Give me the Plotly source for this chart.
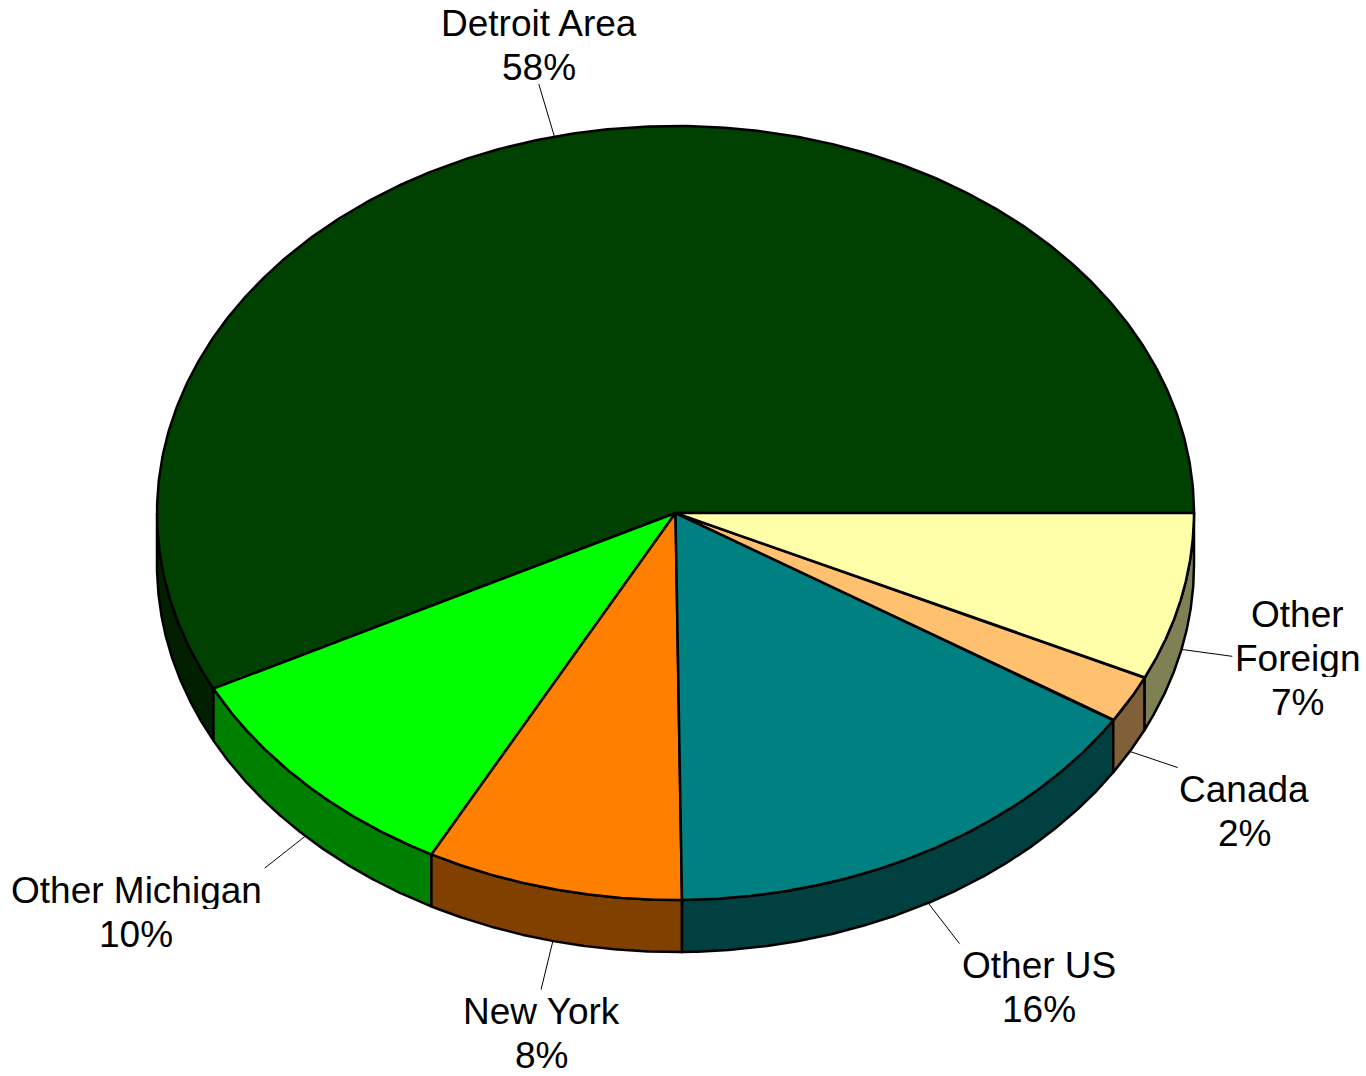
import numpy as np
import plotly.graph_objects as go

# ---- data ----
categories = ["Detroit Area", "Other Michigan", "New York", "Other US", "Canada", "Other Foreign"]
label_lines = [["Detroit Area"], ["Other Michigan"], ["New York"], ["Other US"], ["Canada"], ["Other", "Foreign"]]
values = [57.5, 9.7, 8.0, 15.8, 2.0, 7.0]
top_colors = ["#004000", "#00FF00", "#FF8000", "#008080", "#FFC070", "#FFFFAA"]
side_colors = ["#002000", "#008000", "#804000", "#004040", "#806038", "#808055"]

# ---- layout / style ----
W, H = 1366, 1076
CX, CY = 675.5, 513.0
RX, RY = 518.5, 387.0
DEPTH = 52.0
LEADER = 50.0
OUTLINE = 2.5
# small hand placement tweaks of the leader-line ends (px)
leader_nudge = [(-4, -4), (-5, -3), (0, 0), (7, -3), (4, -8), (2, -4)]
FS = 37
LS = 44.0
FONT = dict(family="Liberation Sans, Arial, sans-serif", size=FS, color="black")

# Arial / Liberation Sans advance widths (em) for label layout
CW = {"O": .778, "t": .278, "h": .556, "e": .556, "r": .333, " ": .278, "M": .833,
      "i": .222, "c": .5, "g": .556, "a": .556, "n": .556, "U": .722, "S": .667,
      "C": .722, "d": .556, "F": .611, "o": .556, "N": .722, "w": .722, "Y": .667,
      "k": .5, "D": .722, "A": .667, "%": .889, "l": .222}


def text_w(s):
    return sum(CW.get(ch, .556) for ch in s) * FS


def pt(t_deg, dy=0.0):
    t = np.radians(t_deg)
    return CX + RX * np.cos(t), CY - RY * np.sin(t) + dy


total = sum(values)
bounds = [0.0]
for v in values:
    bounds.append(bounds[-1] + 360.0 * v / total)

fig = go.Figure()

# sides (front half only: 180..360 deg)
for i, v in enumerate(values):
    a0, a1 = bounds[i], bounds[i + 1]
    s0, s1 = max(a0, 180.0), min(a1, 360.0)
    if s1 <= s0:
        continue
    ts = np.linspace(s0, s1, 200)
    xt, yt = pt(ts)
    xb, yb = pt(ts[::-1], DEPTH)
    xs = np.concatenate([xt, xb, xt[:1]])
    ys = np.concatenate([yt, yb, yt[:1]])
    fig.add_trace(go.Scatter(x=xs, y=ys, mode="lines", fill="toself",
                             fillcolor=side_colors[i],
                             line=dict(color="black", width=OUTLINE),
                             hoverinfo="skip", showlegend=False))

# tops
for i, v in enumerate(values):
    a0, a1 = bounds[i], bounds[i + 1]
    ts = np.linspace(a0, a1, 400)
    xa, ya = pt(ts)
    xs = np.concatenate([[CX], xa, [CX]])
    ys = np.concatenate([[CY], ya, [CY]])
    fig.add_trace(go.Scatter(x=xs, y=ys, mode="lines", fill="toself",
                             fillcolor=top_colors[i],
                             line=dict(color="black", width=OUTLINE),
                             hoverinfo="skip", showlegend=False, name=categories[i]))

# leader lines + labels
annotations = []
for i, v in enumerate(values):
    mid = (bounds[i] + bounds[i + 1]) / 2.0
    t = np.radians(mid)
    c, s = np.cos(t), np.sin(t)
    x0, y0 = pt(mid, DEPTH if s < 0 else 0.0)
    x1 = x0 + LEADER * c + leader_nudge[i][0]
    y1 = y0 - LEADER * s + leader_nudge[i][1]
    fig.add_trace(go.Scatter(x=[x0, x1], y=[y0, y1], mode="lines",
                             line=dict(color="black", width=1),
                             hoverinfo="skip", showlegend=False))
    lines = label_lines[i] + [f"{v:.0f}%"]
    n = len(lines)
    bw = max(text_w(l) for l in lines)
    if c > 0.3:
        bx = x1 + 2 + bw / 2
    elif c < -0.3:
        bx = x1 - 3 - bw / 2
    else:
        bx = x1
    if s > 0.3:
        first = y1 - 17 - (n - 1) * LS
    elif s < -0.3:
        first = y1 + 21.5
    else:
        first = y1 + 2 - (n - 1) * LS / 2
    for k, l in enumerate(lines):
        annotations.append(dict(x=bx, y=first + k * LS, xref="x", yref="y",
                                text=l, showarrow=False, height=38,
                                valign="middle", borderpad=0,
                                xanchor="center", yanchor="middle",
                                font=FONT))

fig.update_layout(
    width=W, height=H,
    margin=dict(l=0, r=0, t=0, b=0),
    paper_bgcolor="white", plot_bgcolor="white",
    xaxis=dict(range=[0, W], visible=False, fixedrange=True),
    yaxis=dict(range=[H, 0], visible=False, fixedrange=True),
    annotations=annotations,
    showlegend=False,
)

fig.write_html("out.html", config={"displayModeBar": False, "staticPlot": True},
               post_script="document.body.style.margin='0px';document.body.style.overflow='hidden';")
